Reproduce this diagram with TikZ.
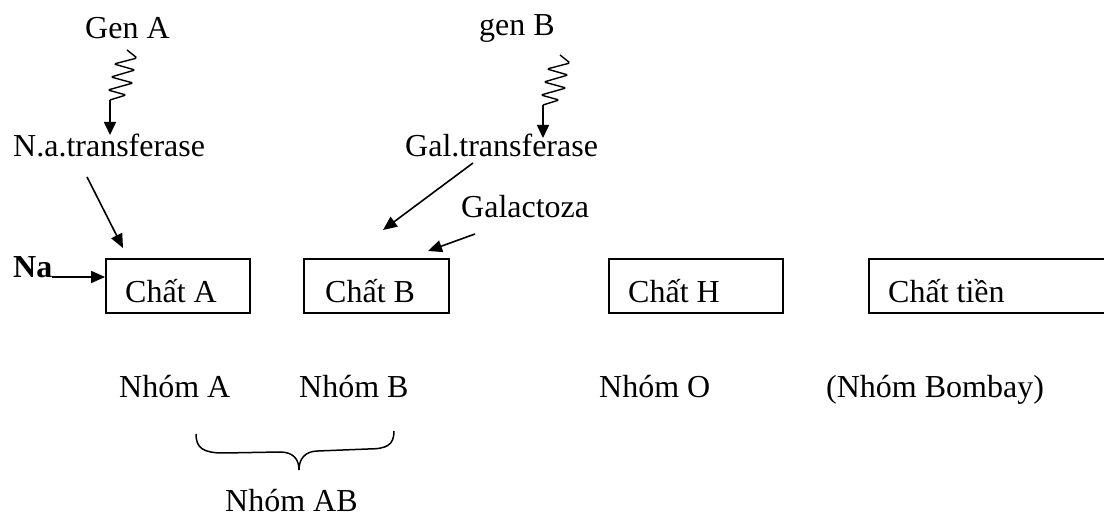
\documentclass[tikz,border=0pt]{standalone}
\usepackage{fontspec}
\setmainfont{Liberation Serif}
\usetikzlibrary{arrows.meta,calc}

\begin{document}
\begin{tikzpicture}[x=1pt,y=-1pt,
  lbl/.style={inner sep=0pt, anchor=base west, font=\fontsize{32}{38}\selectfont},
  box/.style={draw, line width=1.8pt, inner sep=0pt, minimum height=54pt},
  arr/.style={line width=1.6pt, -{Triangle[length=14pt,width=12pt]}},
  coil/.style={line width=1.4pt, rounded corners=1.5pt},
  bracepath/.style={line width=1.5pt}]
\useasboundingbox (0,0) rectangle (1104,518);

% substance boxes
\node[box, minimum width=144pt] (boxA) at (178,286) {};
\node[box, minimum width=145pt] (boxB) at (376.5,286) {};
\node[box, minimum width=174pt] (boxH) at (696,286) {};
\node[box, minimum width=245pt] (boxT) at (991.5,286) {};

% box labels (left aligned inside the boxes)
\node[lbl] (tA) at (125,303) {Chất A};
\node[lbl] (tB) at (325,303) {Chất B};
\node[lbl] (tH) at (628,303) {Chất H};
\node[lbl] (tT) at (888,303) {Chất tiền};

% genes and enzymes
\node[lbl] (genA) at (85,39) {Gen A};
\node[lbl] (genB) at (479,36) {gen B};
\node[lbl] (enzA) at (13,157) {N.a.transferase};
\node[lbl] (enzB) at (405,157) {Gal.transferase};
\node[lbl] (gal) at (461,218) {Galactoza};
\node[lbl, font=\fontsize{32}{38}\selectfont\bfseries] (na) at (13,278) {Na};

% blood groups
\node[lbl] (gA) at (119,398) {Nhóm A};
\node[lbl] (gB) at (299,398) {Nhóm B};
\node[lbl] (gO) at (599,398) {Nhóm O};
\node[lbl] (gBo) at (826,398) {(Nhóm Bombay)};
\node[lbl] (gAB) at (225,512) {Nhóm AB};

% expression coils: gene -> enzyme
\coordinate (cAend) at (110,100);
\coordinate (cAtip) at (110,135);
\draw[coil] (127,50) -- (137,58) -- (114,64) -- (135,70) -- (111,77)
  -- (133,83) -- (108,90) -- (126,95) -- (cAend);
\draw[arr, -{Triangle[length=13pt,width=12pt]}] (cAend) -- (cAtip);

\coordinate (cBend) at (543,105);
\coordinate (cBtip) at (543,138);
\draw[coil] (560,55) -- (570,63) -- (547,69) -- (568,75) -- (544,82)
  -- (566,88) -- (541,95) -- (559,100) -- (cBend);
\draw[arr, -{Triangle[length=13pt,width=12pt]}] (cBend) -- (cBtip);

% enzyme / substrate arrows
\coordinate (aS) at (87,177);
\coordinate (aE) at (123,248);
\draw[arr] (aS) -- (aE);

\coordinate (bS) at (473,163);
\coordinate (bE) at (383,230);
\draw[arr] (bS) -- (bE);

\coordinate (galS) at (475,234);
\coordinate (galE) at (428,251);
\draw[arr] (galS) -- (galE);

\coordinate (naS) at (52,277);
\coordinate (naE) at ($(boxA.west)+(0,-9)$);
\draw[arr] (naS) -- (naE);

% brace joining groups A and B
\coordinate (brL) at (196,434);
\coordinate (brM) at (299,470);
\coordinate (brR) at (394,431);
\draw[bracepath] (brL) .. controls (196,448) and (203,453) .. (224,453)
  -- (280,452) .. controls (293,452) and (299,459) .. (brM);
\draw[bracepath] (brR) .. controls (394,445) and (387,449) .. (368,449)
  -- (318,451) .. controls (305,451) and (299,459) .. (brM);
\end{tikzpicture}
\end{document}
